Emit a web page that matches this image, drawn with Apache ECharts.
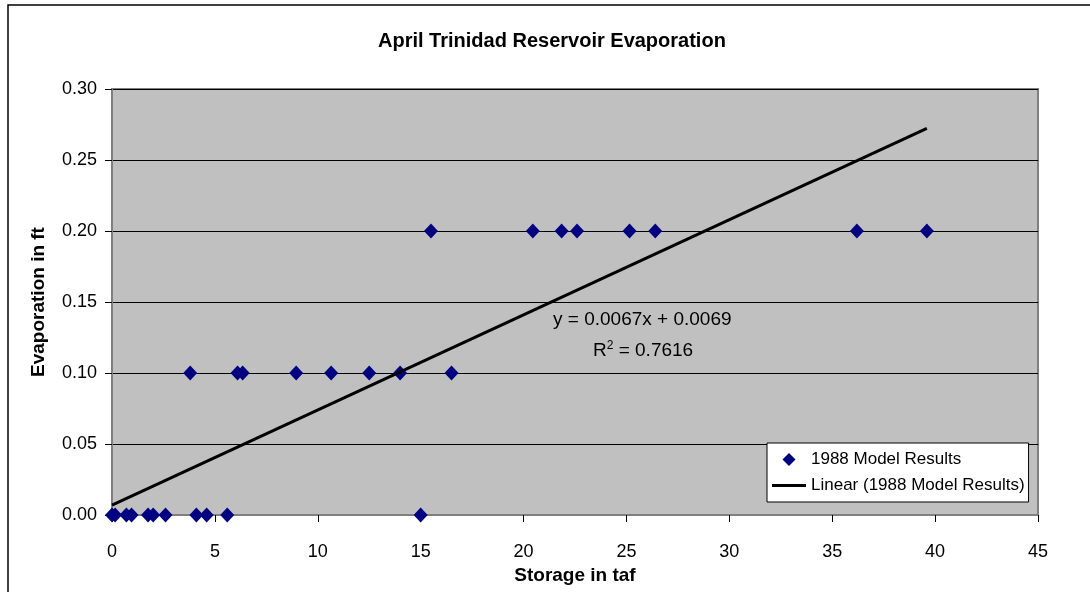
<!DOCTYPE html>
<html>
<head>
<meta charset="utf-8">
<script src="https://cdn.jsdelivr.net/npm/echarts@6/dist/echarts.min.js"></script>
<style>
  html, body { margin: 0; padding: 0; background: #fff; }
  #chart { width: 1090px; height: 592px; }
</style>
</head>
<body>
<div id="chart"></div>
<script>
// storage (taf) and evaporation (ft)
var storage = [0, 0.15, 0.7, 0.95, 1.75, 2.0, 2.6, 4.1, 4.6, 5.6, 15.0,
               3.8, 6.1, 6.35, 8.95, 10.65, 12.5, 14.0, 16.5,
               15.5, 20.45, 21.85, 22.6, 25.15, 26.4, 36.2, 39.6];
var evap = [0, 0, 0, 0, 0, 0, 0, 0, 0, 0, 0,
            0.1, 0.1, 0.1, 0.1, 0.1, 0.1, 0.1, 0.1,
            0.2, 0.2, 0.2, 0.2, 0.2, 0.2, 0.2, 0.2];
// trendline ends
var trendX = [0, 39.6];
var trendY = [0.0069, 0.2722];
var xTicks = [0, 45, 5];
var yTicks = [0, 0.30, 0.05];

var font = 'Liberation Sans, Arial, sans-serif';
var points = storage.map(function (x, i) { return [x, evap[i]]; });
var trend = trendX.map(function (x, i) { return [x, trendY[i]]; });

var myChart = echarts.init(document.getElementById('chart'));
myChart.setOption({
  animation: false,
  backgroundColor: '#fff',
  title: {
    text: 'April Trinidad Reservoir Evaporation',
    left: 378,
    top: 31,
    padding: 0,
    textStyle: { fontFamily: font, fontSize: 20, fontWeight: 'bold', color: '#000' }
  },
  grid: {
    left: 112, right: 52, top: 89, bottom: 77,
    show: true,
    backgroundColor: '#c0c0c0',
    borderColor: '#808080',
    borderWidth: 2
  },
  legend: {
    orient: 'vertical',
    left: 767,
    top: 443,
    padding: [8, 4, 8, 5],
    itemGap: 9,
    itemWidth: 34,
    itemHeight: 13,
    symbolKeepAspect: true,
    selectedMode: false,
    backgroundColor: '#fff',
    borderColor: '#000',
    borderWidth: 1,
    textStyle: { fontFamily: font, fontSize: 17, color: '#000' },
    data: [
      { name: '1988 Model Results', icon: 'path://M5,0 L10,5 L5,10 L0,5 Z' },
      { name: 'Linear (1988 Model Results)', icon: 'path://M0,0 L34,0 L34,3 L0,3 Z' }
    ]
  },
  xAxis: {
    type: 'value',
    min: xTicks[0], max: xTicks[1], interval: xTicks[2],
    name: 'Storage in taf',
    nameLocation: 'middle',
    nameGap: 47,
    nameTextStyle: { fontFamily: font, fontSize: 19, fontWeight: 'bold', color: '#000' },
    axisLine: { show: true, lineStyle: { color: '#808080', width: 2 } },
    axisTick: { show: true, inside: false, length: 7, lineStyle: { color: '#000' } },
    axisLabel: { fontFamily: font, fontSize: 18, color: '#000', margin: 28 },
    splitLine: { show: false }
  },
  yAxis: {
    type: 'value',
    min: yTicks[0], max: yTicks[1], interval: yTicks[2],
    name: 'Evaporation in ft',
    nameLocation: 'middle',
    nameGap: 64,
    nameTextStyle: { fontFamily: font, fontSize: 19, fontWeight: 'bold', color: '#000' },
    axisLine: { show: true, lineStyle: { color: '#808080', width: 2 } },
    axisTick: { show: true, inside: false, length: 7, lineStyle: { color: '#000' } },
    axisLabel: {
      fontFamily: font, fontSize: 18, color: '#000', margin: 15,
      formatter: function (v) { return v.toFixed(2); }
    },
    splitLine: { show: true, lineStyle: { color: '#000', width: 1 } }
  },
  series: [
    {
      name: '1988 Model Results',
      type: 'scatter',
      symbol: 'diamond',
      symbolSize: [14, 15],
      itemStyle: { color: '#000080', opacity: 1 },
      data: points,
      z: 3
    },
    {
      name: 'Linear (1988 Model Results)',
      type: 'line',
      symbol: 'none',
      itemStyle: { color: '#000' },
      lineStyle: { color: '#000', width: 3 },
      data: trend,
      z: 4
    }
  ],
  graphic: [
    {
      type: 'rect',
      shape: { x: 8, y: 5, width: 1100, height: 600 },
      style: { fill: 'none', stroke: '#000', lineWidth: 1.5 },
      silent: true,
      z: -10
    },
    {
      type: 'text',
      left: 553,
      top: 310,
      style: { text: 'y = 0.0067x + 0.0069', font: '19px ' + font, fill: '#000' },
      z: 10
    },
    {
      type: 'text',
      left: 593,
      top: 340,
      style: {
        text: 'R{sup|2} = 0.7616',
        font: '19px ' + font,
        fill: '#000',
        rich: { sup: { fontSize: 12, fontFamily: font, verticalAlign: 'top', padding: [0, 0, 10, 0] } }
      },
      z: 10
    }
  ]
});
</script>
</body>
</html>
